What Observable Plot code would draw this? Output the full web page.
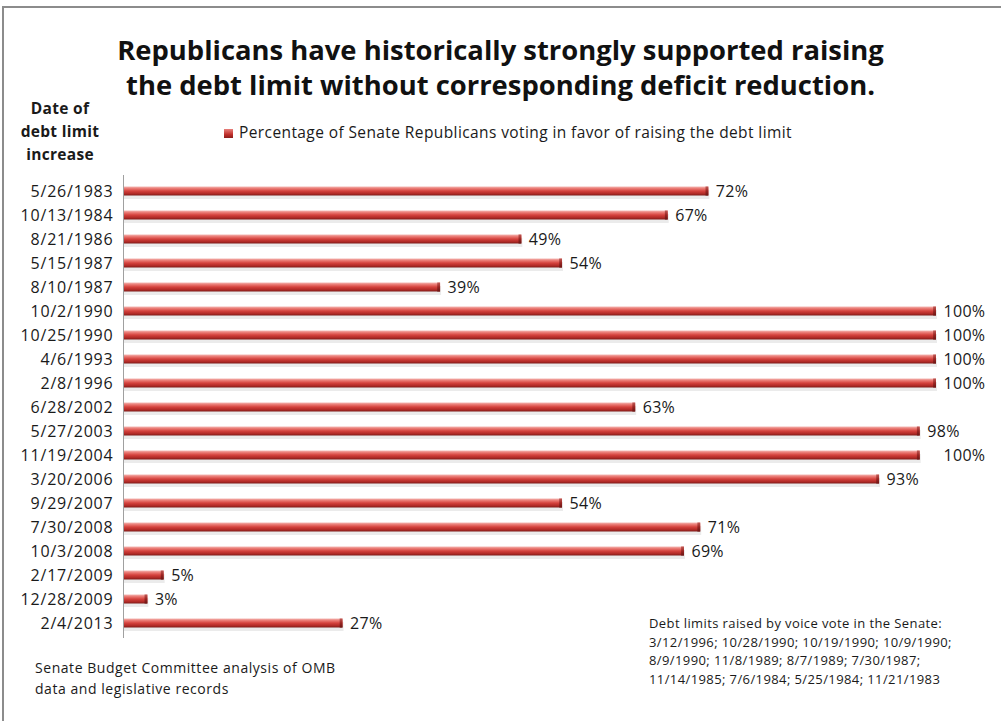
<!DOCTYPE html>
<html>
<head>
<meta charset="utf-8">
<script src="https://cdn.jsdelivr.net/npm/d3@7"></script>
<script src="https://cdn.jsdelivr.net/npm/@observablehq/plot@0.6"></script>
<style>
  html, body { margin: 0; padding: 0; background: #fff; }
  #page { position: relative; width: 1001px; height: 721px; overflow: hidden; font-family: "Open Sans", sans-serif; color: #1a1a1a; }
  #frame { position: absolute; left: 2px; top: 6px; width: 1100px; height: 800px; border-left: 2px solid #8c8c8c; border-top: 2px solid #8c8c8c; }
  #chart { position: absolute; left: 0; top: 0; }
  .abs { position: absolute; white-space: nowrap; }
  #title { left: 0; width: 1001px; top: 32px; text-align: center; font-weight: 700; font-size: 27.4px; line-height: 35px; color: #111; }
  #ytitle { left: 10px; width: 100px; top: 97px; text-align: center; font-weight: 700; font-size: 15.5px; line-height: 23px; letter-spacing: 0.3px; }
  #legend { left: 224px; top: 121px; font-size: 15.5px; line-height: 22px; letter-spacing: 0.4px; }
  #legend .sw { display: inline-block; width: 9px; height: 9px; margin-right: 6px; vertical-align: 0px; background: linear-gradient(#e8807b, #c0302c 60%, #8a1c1a); }
  #source { left: 35px; top: 657px; font-size: 14px; line-height: 21px; letter-spacing: 0.55px; }
  #note { left: 649px; top: 614px; font-size: 13px; line-height: 18.5px; letter-spacing: 0.4px; }
</style>
</head>
<body>
<div id="page">
  <div id="frame"></div>
  <div id="chart"></div>
  <div class="abs" id="title">Republicans have historically strongly supported raising<br>the debt limit without corresponding deficit reduction.</div>
  <div class="abs" id="ytitle">Date of<br>debt limit<br>increase</div>
  <div class="abs" id="legend"><span class="sw"></span>Percentage of Senate Republicans voting in favor of raising the debt limit</div>
  <div class="abs" id="source">Senate Budget Committee analysis of OMB<br>data and legislative records</div>
  <div class="abs" id="note">Debt limits raised by voice vote in the Senate:<br>3/12/1996; 10/28/1990; 10/19/1990; 10/9/1990;<br>8/9/1990; 11/8/1989; 8/7/1989; 7/30/1987;<br>11/14/1985; 7/6/1984; 5/25/1984; 11/21/1983</div>
</div>
<script>
// Dates of debt limit increases (top to bottom)
const dates = ["5/26/1983","10/13/1984","8/21/1986","5/15/1987","8/10/1987","10/2/1990","10/25/1990","4/6/1993","2/8/1996","6/28/2002","5/27/2003","11/19/2004","3/20/2006","9/29/2007","7/30/2008","10/3/2008","2/17/2009","12/28/2009","2/4/2013"];
// Bar lengths (% of Senate Republicans voting in favor)
const barValues = [72,67,49,54,39,100,100,100,100,63,98,98,93,54,71,69,5,3,27];
// Data labels as printed on the chart
const labelValues = [72,67,49,54,39,100,100,100,100,63,98,100,93,54,71,69,5,3,27];

const data = dates.map((d, i) => ({date: d, value: barValues[i], label: labelValues[i]}));

const fontFamily = "Open Sans, sans-serif";
const chart = Plot.plot({
  width: 1001,
  height: 721,
  marginLeft: 123,
  marginRight: 65,
  marginTop: 175,
  marginBottom: 83,
  style: {background: "transparent", fontFamily, fontSize: "16px", color: "#1a1a1a", overflow: "visible"},
  x: {domain: [0, 100], axis: null},
  y: {domain: dates, padding: 0, label: null, tickSize: 0, tickPadding: 10},
  marks: [
    Plot.barX(data, {y: "date", x: "value", insetTop: 9, insetBottom: 6, dy: 2, dx: 1, fill: "#000", fillOpacity: 0.08}),
    Plot.barX(data, {y: "date", x: "value", insetTop: 7.5, insetBottom: 7.5, fill: "url(#barGrad)"}),
    Plot.barX(data, {y: "date", x1: d => d.value - 0.35, x2: "value", insetTop: 7.5, insetBottom: 7.5, fill: "url(#capGrad)"}),
    Plot.ruleX([0], {stroke: "#a0a0a0", strokeWidth: 1}),
    Plot.text(data, {y: "date", x: "label", text: d => d.label + "%", textAnchor: "start", dx: 7, fontSize: 16, fill: "#1a1a1a"})
  ]
});

// vertical gradient giving the bars their cylinder look
const defs = d3.select(chart).insert("defs", ":first-child");
const g1 = defs.append("linearGradient").attr("id", "barGrad").attr("x1", 0).attr("y1", 0).attr("x2", 0).attr("y2", 1);
[["0%", "#f4b8b4"], ["22%", "#ea7b75"], ["50%", "#d5423d"], ["80%", "#b02a26"], ["100%", "#7e1b19"]]
  .forEach(([o, c]) => g1.append("stop").attr("offset", o).attr("stop-color", c));
const g2 = defs.append("linearGradient").attr("id", "capGrad").attr("x1", 0).attr("y1", 0).attr("x2", 0).attr("y2", 1);
[["0%", "#c05a56"], ["50%", "#9a2522"], ["100%", "#6a1614"]]
  .forEach(([o, c]) => g2.append("stop").attr("offset", o).attr("stop-color", c));

// the original's tick labels are set a little wider
d3.select(chart).selectAll('[aria-label="y-axis tick label"] text').style("letter-spacing", "0.8px");
d3.select(chart).selectAll('[aria-label="text"] text').style("letter-spacing", "0.3px");

document.getElementById("chart").appendChild(chart);
</script>
</body>
</html>
